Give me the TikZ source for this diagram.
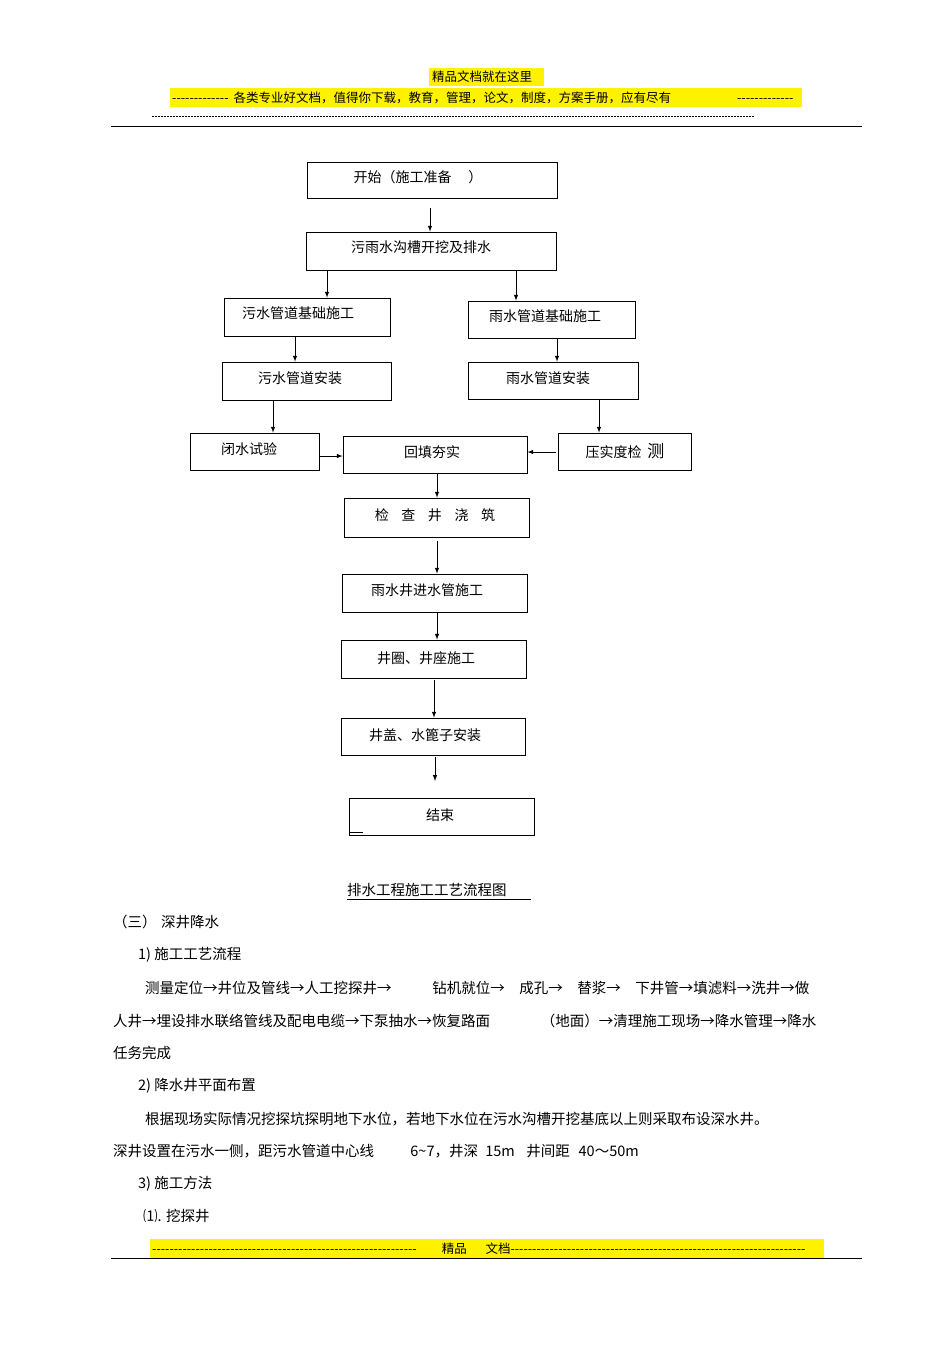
\documentclass[tikz,border=0pt]{standalone}
\usepackage{fontspec}
\setmainfont{Noto Sans CJK SC}[Ligatures=TeXOff]
\begin{document}
\begin{tikzpicture}[x=1pt,y=-1pt,
 box/.style={draw,line width=0.8pt,inner sep=0pt},
 lbl/.style={font=\fontsize{14}{16}\selectfont},
 txt/.style={anchor=west,inner sep=0pt,font=\fontsize{14.5}{17}\selectfont},
 arr/.style={-latex,line width=1pt}]
\useasboundingbox (0,0) rectangle (950,1346);
% header
\fill[yellow] (429,68) rectangle (544,86);
\fill[yellow] (170,88) rectangle (802,107);
\node[font=\fontsize{12.5}{14}\selectfont,inner sep=0pt] (h1) at (482,77) {精品文档就在这里};
\node[anchor=west,inner sep=0pt,font=\fontsize{12.5}{14}\selectfont] (h2) at (172,98) {-------------\hspace{0.4em}各类专业好文档，值得你下载，教育，管理，论文，制度，方案手册，应有尽有\hspace{66pt}-------------};
\draw[dash pattern=on 2pt off 1pt,line width=0.4pt] (152,116) -- (754,116);
\draw[line width=0.8pt] (111,126) -- (862,126);
% boxes
\node[box,minimum width=250,minimum height=36] (a) at (432,180) {};
\node[lbl] at (418,177) {开始（施工准备\hspace{1.2em}）};
\node[box,minimum width=250,minimum height=38] (b) at (431,251) {};
\node[lbl] at (421,247) {污雨水沟槽开挖及排水};
\node[box,minimum width=166,minimum height=38] (c) at (307,317) {};
\node[lbl] at (298,313) {污水管道基础施工};
\node[box,minimum width=167,minimum height=37] (d) at (551.5,319.5) {};
\node[lbl] at (545,316) {雨水管道基础施工};
\node[box,minimum width=169,minimum height=38] (e) at (306.5,381) {};
\node[lbl] at (300,378) {污水管道安装};
\node[box,minimum width=170,minimum height=37] (f) at (553,380.5) {};
\node[lbl] at (548,378) {雨水管道安装};
\node[box,minimum width=129,minimum height=37] (g) at (254.5,451.5) {};
\node[lbl] at (249,449) {闭水试验};
\node[box,minimum width=184,minimum height=37] (h) at (435,454.5) {};
\node[lbl] at (432,452) {回填夯实};
\node[box,minimum width=133,minimum height=37] (i) at (624.5,451.5) {};
\node[lbl] at (625,451) {压实度检\hspace{0.4em}{\fontsize{17}{18}\selectfont 测}};
\node[box,minimum width=185,minimum height=39] (j) at (436.5,517.5) {};
\node[lbl] at (435,515) {检\hspace{0.9em}查\hspace{0.9em}井\hspace{0.9em}浇\hspace{0.9em}筑};
\node[box,minimum width=185,minimum height=38] (k) at (434.5,593) {};
\node[lbl] at (427,590) {雨水井进水管施工};
\node[box,minimum width=185,minimum height=38] (l) at (433.5,659) {};
\node[lbl] at (426,658) {井圈、井座施工};
\node[box,minimum width=184,minimum height=37] (m) at (433,736.5) {};
\node[lbl] at (425,735) {井盖、水篦子安装};
\node[box,minimum width=185,minimum height=37] (n) at (441.5,816.5) {};
\node[lbl] at (440,815) {结束};
\draw[line width=0.8pt] (349,832) -- (363,832);
% arrows
\draw[arr] (a.south -| 430,208) ++(0,10) -- (b.north -| 430,0);
\draw[arr] (b.south -| 327,0) -- (c.north -| 327,0);
\draw[arr] (b.south -| 516,0) -- (d.north -| 516,0);
\draw[arr] (c.south -| 295,0) -- (e.north -| 295,0);
\draw[arr] (d.south -| 557,0) -- (f.north -| 557,0);
\draw[arr] (e.south -| 273,0) -- (g.north -| 273,0);
\draw[arr] (f.south -| 599,0) -- (i.north -| 599,0);
\draw[arr] (g.east |- 0,456) -- (h.west |- 0,456);
\draw[arr] (i.west |- 0,452) ++(-2,0) -- (h.east |- 0,452);
\draw[arr] (h.south -| 437,0) -- (j.north -| 437,0);
\draw[arr] (j.south -| 437,0) ++(0,4) -- (k.north -| 437,0);
\draw[arr] (k.south -| 437,0) -- (l.north -| 437,0);
\draw[arr] (l.south -| 434,0) ++(0,2) -- (m.north -| 434,0);
\draw[arr] (m.south -| 435,0) ++(0,2) -- (435,781);
% caption
\node[txt] (cap) at (347,890) {排水工程施工工艺流程图};
\draw[line width=0.6pt] (347,899) -- (531,899);
% body text
\node[txt] (t1) at (113,922) {（三）\hspace{0.3em}深井降水};
\node[txt] (t2) at (138,955) {1) 施工工艺流程};
\node[txt] (t3) at (145,988) {测量定位→井位及管线→人工挖探井→\hspace{2.8em}钻机就位→\hspace{1em}成孔→\hspace{1em}替浆→\hspace{1em}下井管→填滤料→洗井→做};
\node[txt] (t4) at (113,1021) {人井→埋设排水联络管线及配电电缆→下泵抽水→恢复路面\hspace{3.5em}（地面）→清理施工现场→降水管理→降水};
\node[txt] (t5) at (113,1053) {任务完成};
\node[txt] (t6) at (138,1086) {2) 降水井平面布置};
\node[txt] (t7) at (145,1119) {根据现场实际情况挖探坑探明地下水位，若地下水位在污水沟槽开挖基底以上则采取布设深水井。};
\node[txt] (t8) at (113,1151) {深井设置在污水一侧，距污水管道中心线\hspace{2.5em}6\textasciitilde7，井深\hspace{0.5em}15m\hspace{0.8em}井间距\hspace{0.6em}40～50m};
\node[txt] (t9) at (138,1184) {3) 施工方法};
\node[txt] (t10) at (143,1216) {⑴. 挖探井};
% footer
\fill[yellow] (150,1239) rectangle (824,1258);
\node[anchor=west,inner sep=0pt,font=\fontsize{12.5}{14}\selectfont] (ft) at (152,1249) {-------------------------------------------------------------\hspace{2em}精品\hspace{1.5em}文档--------------------------------------------------------------------};
\draw[line width=0.8pt] (111,1258) -- (862,1258);
\end{tikzpicture}
\end{document}
